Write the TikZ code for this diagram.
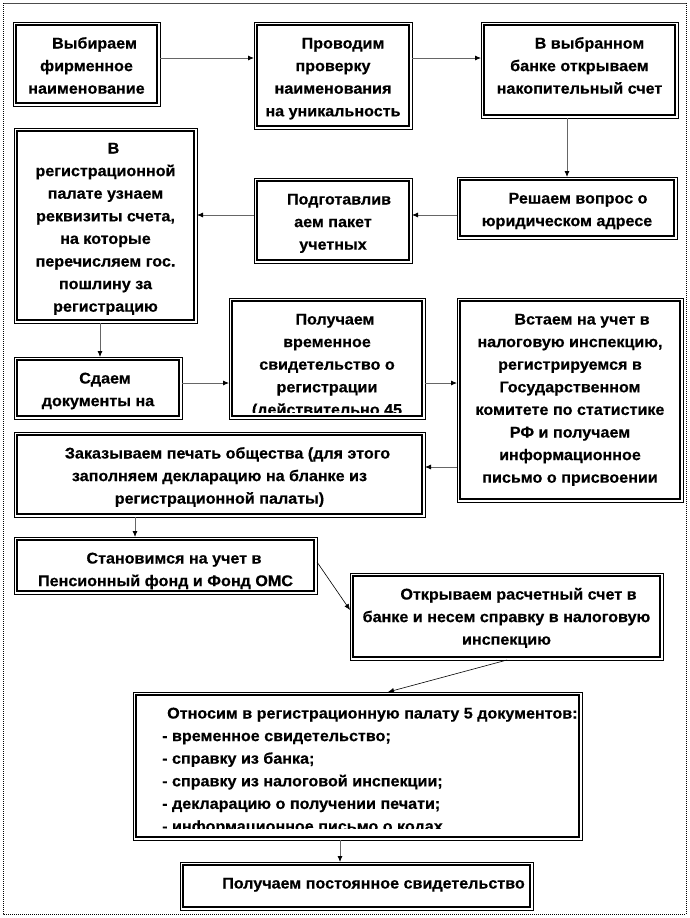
\documentclass[tikz,border=0pt]{standalone}
\usepackage{fontspec}
\setmainfont{Liberation Sans}[FakeStretch=1.04, BoldFeatures={FakeBold=0.5}]
\usetikzlibrary{arrows.meta,fit,calc}
\newcommand\flowbox[5]{%
  \node[outerbox, fit={(#2,#3) (#4,#5)}] (#1) {};
  \draw[innerline] ([shift={(3pt,-3pt)}]#1.north west) rectangle ([shift={(-3pt,3pt)}]#1.south east);}
\newcommand\flowtext[6]{%
  \begin{scope}
    \clip ([shift={(3pt,-3pt)}]#1.north west) rectangle (#1.east |- 0,#2);
    \node[#3] (#1t) at (#4,#5) {#6};
  \end{scope}}
\newcommand\ctext[1]{\parbox[t]{400pt}{\centering #1}}
\newcommand\ltext[1]{\parbox[t]{440pt}{\raggedright #1}}
\begin{document}
\begin{tikzpicture}[x=1pt,y=-1pt,
  outerbox/.style={draw, line width=0.7pt, inner sep=0pt, outer sep=0pt, rectangle},
  innerline/.style={line width=1.4pt},
  txt/.style={anchor=base, inner sep=0pt, font=\fontsize{15.5pt}{22.6pt}\selectfont\bfseries},
  txtl/.style={txt, anchor=base west},
  arr/.style={draw=black!60, line width=0.8pt, -{Latex[length=6pt,width=5pt,color=black]}},
  darr/.style={draw=black, line width=0.6pt, -{Latex[length=6pt,width=5pt]}}]
\useasboundingbox (0,0) rectangle (690,918);
% outer frame
\draw[black!70, line width=0.8pt] (3,3) -- (686,3);
\draw[densely dotted, line width=1pt] (3,3) -- (3,914) -- (686,914) -- (686,3);

% boxes
\flowbox{b1}{13}{22}{160}{106}
\flowbox{b2}{254}{22}{412}{129}
\flowbox{b3}{481}{22}{678}{118}
\flowbox{b4}{14}{128}{197}{323}
\flowbox{b5}{457}{177}{677}{239}
\flowbox{b6}{254}{178}{412}{263}
\flowbox{b7}{14}{357}{182}{419}
\flowbox{b8}{229}{298}{425}{419}
\flowbox{b9}{457}{298}{683}{502}
\flowbox{b10}{14}{432}{425}{517}
\flowbox{b11}{14}{537}{317}{594}
\flowbox{b12}{350}{573}{663}{660}
\flowbox{b13}{133}{692}{582}{840}
\flowbox{b14}{180}{862}{533}{910}

% texts
\flowtext{b1}{103}{txt}{86.5}{48.5}{\ctext{\hspace*{16pt}Выбираем\\фирменное\\наименование}}
\flowtext{b2}{126}{txt}{333}{48.5}{\ctext{\hspace*{20pt}Проводим\\проверку\\наименования\\на уникальность}}
\flowtext{b3}{115}{txt}{579.5}{48.5}{\ctext{\hspace*{20pt}В выбранном\\банке открываем\\накопительный счет}}
\flowtext{b4}{320}{txt}{105.5}{153.5}{\ctext{\hspace*{16pt}В\\регистрационной\\палате узнаем\\реквизиты счета,\\на которые\\перечисляем гос.\\пошлину за\\регистрацию}}
\flowtext{b5}{236}{txt}{567}{203.5}{\ctext{\hspace*{22pt}Решаем вопрос о\\юридическом адресе}}
\flowtext{b6}{260}{txt}{333}{204.5}{\ctext{\hspace*{12pt}Подготавлив\\аем пакет\\учетных}}
\flowtext{b7}{416}{txt}{98}{383.5}{\ctext{\hspace*{14pt}Сдаем\\документы на}}
\flowtext{b8}{412}{txt}{327}{324.5}{\ctext{\hspace*{16pt}Получаем\\временное\\свидетельство о\\регистрации\\(действительно 45}}
\flowtext{b9}{499}{txt}{570}{324.5}{\ctext{\hspace*{24pt}Встаем на учет в\\налоговую инспекцию,\\регистрируемся в\\Государственном\\комитете по статистике\\РФ и получаем\\информационное\\письмо о присвоении}}
\flowtext{b10}{514}{txt}{219.5}{458.5}{\ctext{\hspace*{16pt}Заказываем печать общества (для этого\\заполняем декларацию на бланке из\\регистрационной палаты)}}
\flowtext{b11}{591}{txt}{165.5}{563.5}{\ctext{\hspace*{17pt}Становимся на учет в\\Пенсионный фонд и Фонд ОМС}}
\flowtext{b12}{657}{txt}{506.5}{599.5}{\ctext{\hspace*{24pt}Открываем расчетный счет в\\банке и несем справку в налоговую\\инспекцию}}
\flowtext{b13}{828}{txtl}{162}{718.5}{\ltext{\hspace*{5pt}Относим в регистрационную палату 5 документов:\\- временное свидетельство;\\- справку из банка;\\- справку из налоговой инспекции;\\- декларацию о получении печати;\\- информационное письмо о кодах}}
\flowtext{b14}{907}{txt}{356.5}{888.5}{\ctext{\hspace*{34pt}Получаем постоянное свидетельство}}

% connectors
\draw[arr] (b1.east |- 0,58) -- (b2.west |- 0,58);
\draw[arr] (b2.east |- 0,58) -- (b3.west |- 0,58);
\draw[arr] (b3.south -| 567,0) -- (b5.north -| 567,0);
\draw[arr] (b5.west |- 0,215) -- (b6.east |- 0,215);
\draw[arr] (b6.west |- 0,215) -- (b4.east |- 0,215);
\draw[arr] (b4.south -| 100,0) -- (b7.north -| 100,0);
\draw[arr] (b7.east |- 0,383) -- (b8.west |- 0,383);
\draw[arr] (b8.east |- 0,383) -- (b9.west |- 0,383);
\draw[arr] (b9.west |- 0,467) -- (b10.east |- 0,467);
\draw[arr] (b10.south -| 135,0) -- (b11.north -| 135,0);
\draw[darr] (b11.east |- 0,562) -- (b12.west |- 0,610);
\draw[darr] (b12.south -| 507,0) -- (b13.north -| 388,0);
\draw[arr] (b13.south -| 340,0) -- (b14.north -| 340,0);
\end{tikzpicture}
\end{document}
